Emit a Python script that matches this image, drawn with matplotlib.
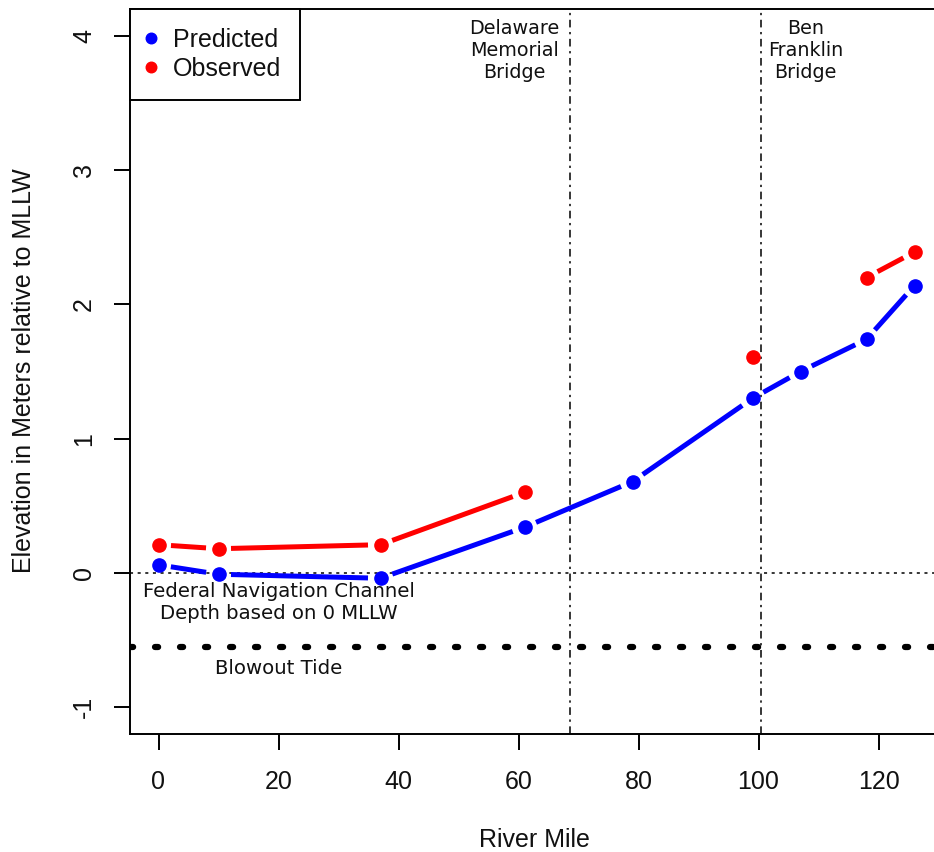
import numpy as np
import matplotlib
matplotlib.use("Agg")
import matplotlib.pyplot as plt

# ---- data ----
river_mile = [0, 10, 37, 61, 79, 99, 107, 118, 126]
predicted = [0.06, -0.01, -0.04, 0.34, 0.68, 1.30, 1.50, 1.74, 2.14]
observed = [0.21, 0.18, 0.21, 0.60, np.nan, 1.61, np.nan, 2.20, 2.39]
blowout_tide = -0.55
channel_depth = 0.0
bridge_miles = [68.6, 100.4]
bridge_labels = ["Delaware\nMemorial\nBridge", "Ben\nFranklin\nBridge"]
bridge_label_x = [59.3, 107.8]
x_ticks = [0, 20, 40, 60, 80, 100, 120]
y_ticks = [-1, 0, 1, 2, 3, 4]

W, H = 934, 852
fig = plt.figure(figsize=(W / 100, H / 100), dpi=100)
fig.patch.set_facecolor("white")
left_px, right_px, top_px, bot_px = 130, 944.5, 9, 734
ax = fig.add_axes([left_px / W, 1 - bot_px / H, (right_px - left_px) / W, (bot_px - top_px) / H])
ax.set_xlim(-4.75, 131.0)
ax.set_ylim(-1.2, 4.2)

main_font = "Liberation Sans"
ann_font = "DejaVu Sans"
txt_col = "#111111"

# reference lines
ax.axhline(channel_depth, color="black", lw=1.1, linestyle=(0, (2, 3)), zorder=1)
ax.axhline(blowout_tide, color="black", lw=4.5, linestyle=(0, (0.5, 3.5)),
           dash_capstyle="round", zorder=1)
for bx in bridge_miles:
    ax.axvline(bx, color="black", lw=1.1, linestyle=(0, (5, 3, 1.5, 3)), zorder=1)


def gapped(xs, ys, color, gap=12.5, lw=3.6):
    pts = ax.transData.transform(np.column_stack([xs, ys]))
    inv = ax.transData.inverted()
    for i in range(len(xs) - 1):
        if np.isnan(ys[i]) or np.isnan(ys[i + 1]):
            continue
        p0, p1 = pts[i], pts[i + 1]
        d = p1 - p0
        L = np.hypot(*d)
        if L <= 2 * gap:
            continue
        u = d / L
        seg = inv.transform(np.array([p0 + u * gap, p1 - u * gap]))
        ax.plot(seg[:, 0], seg[:, 1], color=color, lw=lw, solid_capstyle="butt", zorder=3)


xs = np.array(river_mile, dtype=float)
gapped(xs, np.array(predicted, dtype=float), "#0000FF")
gapped(xs, np.array(observed, dtype=float), "#FF0000")
ax.plot(xs, predicted, linestyle="none", marker="o", ms=9.5, color="#0000FF", zorder=4, label="Predicted")
ax.plot(xs, observed, linestyle="none", marker="o", ms=9.5, color="#FF0000", zorder=4, label="Observed")

# annotations
for bx, lab in zip(bridge_label_x, bridge_labels):
    ax.text(bx, 3.89, lab, ha="center", va="center", fontsize=13.8, family=ann_font,
            color=txt_col, linespacing=1.22)
ax.text(20, -0.22, "Federal Navigation Channel\nDepth based on 0 MLLW", ha="center", va="center",
        fontsize=14.2, family=ann_font, color=txt_col, linespacing=1.2)
ax.text(20, -0.71, "Blowout Tide", ha="center", va="center", fontsize=14.2, family=ann_font,
        color=txt_col)

# axes styling
for s in ax.spines.values():
    s.set_linewidth(1.4)
    s.set_color("black")
ax.set_xticks(x_ticks)
ax.set_yticks(y_ticks)
ax.set_xticklabels([str(v) for v in x_ticks], fontsize=18, family=main_font, color=txt_col)
ax.set_yticklabels([str(v) for v in y_ticks], fontsize=18, family=main_font, color=txt_col,
                   rotation=90, va="center")
ax.tick_params(axis="both", direction="out", length=11.5, width=1.4)
ax.tick_params(axis="x", pad=14.5)
ax.tick_params(axis="y", pad=13)

fig.text(534 / W, 1 - 840 / H, "River Mile", ha="center", va="center", fontsize=18,
         family=main_font, color=txt_col)
fig.text(24 / W, 1 - 371 / H, "Elevation in Meters relative to MLLW", ha="center", va="center",
         rotation=90, fontsize=18, family=main_font, color=txt_col)

leg = ax.legend(loc="upper left", borderaxespad=0, fancybox=False, framealpha=1,
                edgecolor="black", prop={"family": main_font, "size": 18},
                handlelength=0.2, handletextpad=0.78, borderpad=0.75, labelspacing=0.2,
                markerscale=0.8)
leg.get_frame().set_linewidth(1.4)
for t in leg.get_texts():
    t.set_color(txt_col)

fig.savefig("out.png", dpi=100)
